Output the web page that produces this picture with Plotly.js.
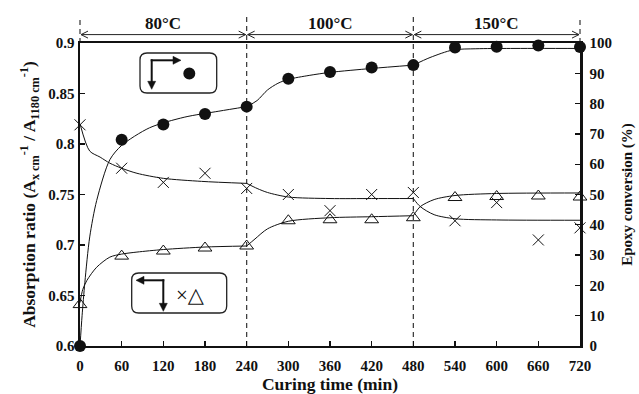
<!DOCTYPE html>
<html>
<head>
<meta charset="utf-8">
<script src="https://cdn.plot.ly/plotly-3.0.1.min.js"></script>
<style>html,body{margin:0;padding:0;background:#fff;}#chart{width:639px;height:394px;}</style>
</head>
<body>
<div id="chart"></div>
<script>
// ---- data ----
const time = [0, 60, 120, 180, 240, 300, 360, 420, 480, 540, 600, 660, 720];
const conversion = [0, 68.1, 73.1, 76.6, 79.0, 88.2, 90.4, 91.9, 92.7, 98.5, 98.8, 99.2, 98.7];
const ratioCross = [0.819, 0.776, 0.762, 0.771, 0.756, 0.750, 0.734, 0.750, 0.752, 0.724, 0.742, 0.705, 0.717];
const ratioTri = [0.641, 0.689, 0.694, 0.697, 0.699, 0.724, 0.725, 0.725, 0.727, 0.747, 0.748, 0.7485, 0.7475];

// fitted curves (one piece per temperature step)
const fitTimeConv = [0, 3, 7, 14, 24, 43, 60, 100, 150, 200, 240, null, 240, 255, 270, 285, 300, 330, 360, 420, 480, null, 480, 504, 537, 570, 620, 720];
const fitConv = [0, 10, 21, 36, 48, 61.5, 66.2, 72, 75.5, 77.5, 79, null, 79, 81, 84.5, 86.7, 88, 89.3, 90.3, 91.6, 92.7, null, 92.7, 95.2, 97.7, 98.1, 98.2, 98.2];
const fitTimeCross = [0, 14, 29, 43, 60, 82, 120, 175, 240, null, 240, 255, 270, 300, 360, 420, 480, null, 480, 490, 510, 540, 600, 720];
const fitCross = [0.820, 0.793, 0.787, 0.781, 0.776, 0.771, 0.766, 0.763, 0.761, null, 0.761, 0.756, 0.752, 0.7475, 0.746, 0.746, 0.746, null, 0.746, 0.738, 0.730, 0.726, 0.7248, 0.7245];
const fitTimeTri = [0, 4, 10, 24, 43, 60, 82, 120, 180, 240, null, 240, 252, 270, 300, 360, 420, 480, null, 480, 490, 510, 540, 600, 720];
const fitTri = [0.643, 0.656, 0.665, 0.678, 0.688, 0.691, 0.693, 0.6955, 0.698, 0.699, null, 0.699, 0.706, 0.716, 0.7235, 0.727, 0.728, 0.729, null, 0.729, 0.738, 0.745, 0.749, 0.751, 0.7515];

const tempLabels = ['80°C', '100°C', '150°C'];
const tempBounds = [0, 240, 480, 720];
const xTicks = [0, 60, 120, 180, 240, 300, 360, 420, 480, 540, 600, 660, 720];

// ---- styling ----
const SERIF = 'Liberation Serif, Times New Roman, serif';
const tickFont = {family: SERIF, size: 15, color: '#111', weight: 'bold'};
const titleFont = {family: SERIF, size: 17.5, color: '#111', weight: 'bold'};

const traces = [
  {x: fitTimeConv, y: fitConv, yaxis: 'y2', mode: 'lines', line: {color: '#111', width: 1, shape: 'spline', smoothing: 0.8}, connectgaps: false, hoverinfo: 'skip', cliponaxis: false},
  {x: fitTimeCross, y: fitCross, mode: 'lines', line: {color: '#111', width: 1, shape: 'spline', smoothing: 0.8}, connectgaps: false, hoverinfo: 'skip', cliponaxis: false},
  {x: fitTimeTri, y: fitTri, mode: 'lines', line: {color: '#111', width: 1, shape: 'spline', smoothing: 0.8}, connectgaps: false, hoverinfo: 'skip', cliponaxis: false},
  {x: time, y: conversion, yaxis: 'y2', mode: 'markers', name: 'Epoxy conversion', marker: {symbol: 'circle', size: 12, color: '#111'}, cliponaxis: false},
  {x: time, y: ratioCross, mode: 'markers', name: 'ratio ×', marker: {symbol: 'x-thin-open', size: 11, color: '#111', line: {color: '#111', width: 1}}, cliponaxis: false},
  {x: time, y: ratioTri, mode: 'markers', name: 'ratio △', marker: {symbol: 'triangle-up-open', size: 12, color: '#111', line: {color: '#111', width: 1}}, cliponaxis: false}
];

// pixel -> paper helpers for decorations (plot area 500 x 303 px)
const PW = 500, PH = 303;
function px(p) { return (p - 80) / PW; }
function py(p) { return (345.7 - p) / PH; }

const shapes = [];
const annotations = [];
// dashed boundaries between temperature steps
tempBounds.forEach(function (b, i) {
  const inner = (i > 0 && i < tempBounds.length - 1);
  shapes.push({type: 'line', xref: 'paper', yref: 'paper', x0: b / 720, x1: b / 720, y0: inner ? 0 : 1, y1: inner ? 1.093 : 1.08,
    line: {color: '#333', width: 1.2, dash: '5px,4px'}, layer: 'below'});
});
// temperature labels and double arrows with open heads
const arrY = py(34.3), headW = 7 / PW, headH = 3.5 / PH;
tempLabels.forEach(function (t, i) {
  const a = tempBounds[i] / 720 + 1 / PW, b = tempBounds[i + 1] / 720 - 1 / PW;
  annotations.push({xref: 'paper', yref: 'paper', x: (a + b) / 2, y: py(22.7), text: t, showarrow: false,
    font: {family: SERIF, size: 17, color: '#111', weight: 'bold'}, xanchor: 'center', yanchor: 'middle'});
  shapes.push({type: 'line', xref: 'paper', yref: 'paper', x0: a, x1: b, y0: arrY, y1: arrY, line: {color: '#222', width: 1}});
  shapes.push({type: 'path', xref: 'paper', yref: 'paper', line: {color: '#222', width: 1},
    path: 'M' + (a + headW) + ',' + (arrY + headH) + ' L' + a + ',' + arrY + ' L' + (a + headW) + ',' + (arrY - headH)});
  shapes.push({type: 'path', xref: 'paper', yref: 'paper', line: {color: '#222', width: 1},
    path: 'M' + (b - headW) + ',' + (arrY + headH) + ' L' + b + ',' + arrY + ' L' + (b - headW) + ',' + (arrY - headH)});
});

// legend boxes (rounded rectangles in paper coordinates)
function roundRect(x0, y0, x1, y1, rx, ry) {
  return 'M' + (x0 + rx) + ',' + y0 + ' L' + (x1 - rx) + ',' + y0 + ' Q' + x1 + ',' + y0 + ' ' + x1 + ',' + (y0 + ry) +
    ' L' + x1 + ',' + (y1 - ry) + ' Q' + x1 + ',' + y1 + ' ' + (x1 - rx) + ',' + y1 +
    ' L' + (x0 + rx) + ',' + y1 + ' Q' + x0 + ',' + y1 + ' ' + x0 + ',' + (y1 - ry) +
    ' L' + x0 + ',' + (y0 + ry) + ' Q' + x0 + ',' + y0 + ' ' + (x0 + rx) + ',' + y0 + ' Z';
}
shapes.push({type: 'path', xref: 'paper', yref: 'paper', path: roundRect(px(140), py(92.7), px(216.7), py(52.7), 7 / PW, 7 / PH), line: {color: '#222', width: 1.3}});
shapes.push({type: 'path', xref: 'paper', yref: 'paper', path: roundRect(px(131.7), py(312.7), px(226.7), py(272.7), 7 / PW, 7 / PH), line: {color: '#222', width: 1.3}});
// filled circle symbol in upper box
shapes.push({type: 'circle', xref: 'paper', yref: 'paper', x0: px(183.3), x1: px(195.3), y0: py(79.3), y1: py(67.3), fillcolor: '#111', line: {color: '#111', width: 0}});

// L-shaped arrows with filled heads
function seg(x0, y0, x1, y1) {
  shapes.push({type: 'line', xref: 'paper', yref: 'paper', x0: px(x0), y0: py(y0), x1: px(x1), y1: py(y1), line: {color: '#111', width: 2}});
}
function head(tipX, tipY, dx, dy) { // dx,dy: unit direction of the arrow (pixels)
  const L = 8, W = 4;
  const bx = tipX - dx * L, by = tipY - dy * L;
  const p1 = [bx - dy * W, by + dx * W], p2 = [bx + dy * W, by - dx * W];
  shapes.push({type: 'path', xref: 'paper', yref: 'paper', fillcolor: '#111', line: {color: '#111', width: 0.5},
    path: 'M' + px(tipX) + ',' + py(tipY) + ' L' + px(p1[0]) + ',' + py(p1[1]) + ' L' + px(p2[0]) + ',' + py(p2[1]) + ' Z'});
}
// upper box: corner (151.7,60) -> down and -> right
seg(151.7, 59, 151.7, 82); head(151.7, 89, 0, 1);
seg(150.7, 60, 174, 60); head(181, 60, 1, 0);
// lower box: corner (163.3,280) -> left and -> down
seg(164.3, 280, 143, 280); head(136, 280, -1, 0);
seg(163.3, 279, 163.3, 304); head(163.3, 311, 0, 1);

annotations.push({xref: 'paper', yref: 'paper', x: px(190), y: py(294.5), text: '×△', showarrow: false,
  font: {family: 'Liberation Serif, DejaVu Sans, serif', size: 21, color: '#111'}, xanchor: 'center', yanchor: 'middle'});

const layout = {
  width: 639, height: 394,
  margin: {l: 80, r: 59, t: 43, b: 48, pad: 0},
  paper_bgcolor: '#fff', plot_bgcolor: '#fff',
  showlegend: false,
  xaxis: {range: [0, 720], tickvals: xTicks, ticks: 'inside', ticklen: 5, tickwidth: 1.3, tickcolor: '#111',
    showline: true, linecolor: '#111', linewidth: 2, mirror: true, showgrid: false, zeroline: false,
    tickfont: tickFont, ticklabelstandoff: 5, title: {text: 'Curing time (min)', font: titleFont, standoff: 7}},
  yaxis: {range: [0.6, 0.9], dtick: 0.05, tick0: 0.6, ticks: 'inside', ticklen: 5, tickwidth: 1.3, tickcolor: '#111',
    showline: true, linecolor: '#111', linewidth: 2.5, showgrid: false, zeroline: false, tickfont: tickFont,
    title: {text: 'Absorption ratio (A<sub>x cm</sub><sup>-1</sup> / A<sub>1180 cm</sub><sup>-1</sup>)', font: titleFont, standoff: 8}},
  yaxis2: {range: [0, 100], dtick: 10, overlaying: 'y', side: 'right', ticks: 'inside', ticklen: 5, tickwidth: 1.3, tickcolor: '#111',
    showline: true, linecolor: '#111', linewidth: 2.5, showgrid: false, zeroline: false, tickfont: tickFont, ticklabelstandoff: 4,
    title: {text: 'Epoxy conversion (%)', font: {family: SERIF, size: 15, color: '#111', weight: 'bold'}, standoff: 11}},
  shapes: shapes,
  annotations: annotations
};

Plotly.newPlot('chart', traces, layout, {staticPlot: true, displayModeBar: false});
</script>
</body>
</html>
